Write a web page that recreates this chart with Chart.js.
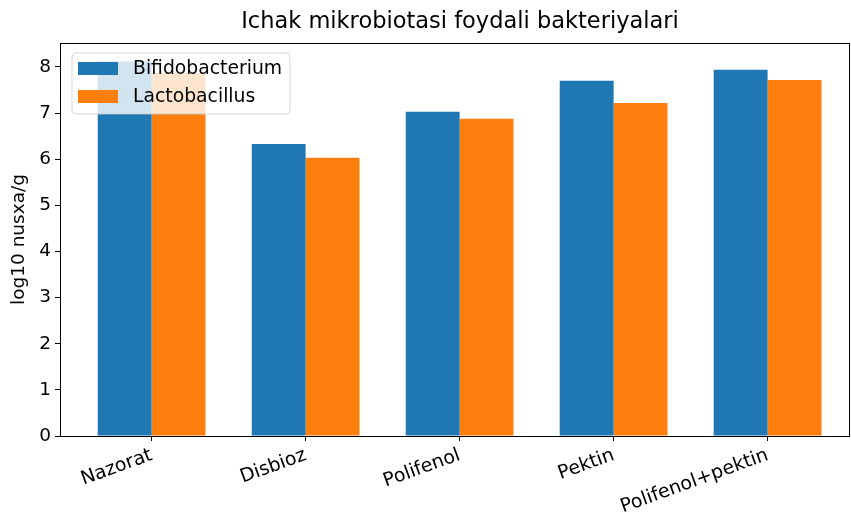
<!DOCTYPE html>
<html>
<head>
<meta charset="utf-8">
<script src="https://cdn.jsdelivr.net/npm/chart.js@4.4.1/dist/chart.umd.min.js"></script>
<style>
  html, body { margin: 0; padding: 0; background: #fff; }
  #wrap { width: 851px; height: 515px; }
</style>
</head>
<body>
<div id="wrap"><canvas id="chart" width="851" height="515"></canvas></div>
<script>
const categories = ['Nazorat', 'Disbioz', 'Polifenol', 'Pektin', 'Polifenol+pektin'];
const bifido = [8.12, 6.33, 7.03, 7.70, 7.94];
const lacto = [7.87, 6.03, 6.88, 7.22, 7.72];
const yTicks = [0, 1, 2, 3, 4, 5, 6, 7, 8];

const FONT = 'DejaVu Sans';
const TITLE = 'Ichak mikrobiotasi foydali bakteriyalari';

// frame, title and legend drawn over the plot like matplotlib
const framePlugin = {
    id: 'frame',
    afterDatasetsDraw(chart) {
        const { ctx, chartArea: a } = chart;
        ctx.save();
        ctx.strokeStyle = '#000';
        ctx.lineWidth = 1;
        ctx.strokeRect(Math.round(a.left) + 0.5, Math.round(a.top) + 0.5,
            Math.round(a.right - a.left) - 1, Math.round(a.bottom - a.top));

        // title centred over the (slightly clipped) axes
        ctx.font = '22.5px ' + FONT;
        ctx.fillStyle = '#000';
        ctx.textAlign = 'center';
        ctx.textBaseline = 'middle';
        ctx.fillText(TITLE, (a.left + a.right) / 2 + 5, 22);

        // legend
        const x0 = a.left + 12, y0 = a.top + 10;
        const w = 218, h = 61;
        ctx.beginPath();
        ctx.roundRect(x0, y0, w, h, 4);
        ctx.fillStyle = 'rgba(255,255,255,0.8)';
        ctx.fill();
        ctx.strokeStyle = 'rgba(204,204,204,0.8)';
        ctx.stroke();
        ctx.font = '18.8px ' + FONT;
        ctx.textAlign = 'left';
        chart.data.datasets.forEach((ds, i) => {
            const ry = y0 + 9 + i * 28;
            ctx.fillStyle = ds.backgroundColor;
            ctx.fillRect(x0 + 6, ry, 40, 13);
            ctx.fillStyle = '#000';
            ctx.fillText(ds.label, x0 + 61, ry + 7);
        });
        ctx.restore();
    }
};

new Chart(document.getElementById('chart').getContext('2d'), {
    type: 'bar',
    data: {
        datasets: [{
            label: 'Bifidobacterium',
            data: bifido.map((v, i) => ({ x: i, y: v })),
            backgroundColor: '#1f77b4',
            borderWidth: 0
        }, {
            label: 'Lactobacillus',
            data: lacto.map((v, i) => ({ x: i, y: v })),
            backgroundColor: '#ff7f0e',
            borderWidth: 0
        }]
    },
    options: {
        responsive: false,
        animation: false,
        layout: { padding: { left: 0, right: 1, top: 43, bottom: 0 } },
        categoryPercentage: 0.7,
        barPercentage: 1.0,
        plugins: {
            legend: { display: false },
            tooltip: { enabled: false },
            title: { display: false }
        },
        scales: {
            x: {
                type: 'linear',
                min: -0.595,
                max: 4.535,
                offset: false,
                afterBuildTicks(scale) {
                    scale.ticks = categories.map((c, i) => ({ value: i }));
                },
                afterFit(scale) { scale.height = 79; },
                grid: { display: true, offset: false, drawOnChartArea: false, tickLength: 5, color: '#000' },
                border: { display: false },
                ticks: {
                    autoSkip: false,
                    maxRotation: 20,
                    minRotation: 20,
                    padding: 3,
                    color: '#000',
                    font: { family: FONT, size: 19 },
                    callback: v => categories[v]
                }
            },
            y: {
                min: 0,
                max: 8.52,
                afterBuildTicks(scale) {
                    scale.ticks = yTicks.map(v => ({ value: v }));
                },
                afterFit(scale) { scale.width = 60; },
                grid: { display: true, drawOnChartArea: false, tickLength: 5, color: '#000' },
                border: { display: false },
                ticks: {
                    padding: 4,
                    color: '#000',
                    font: { family: FONT, size: 18.5 }
                },
                title: {
                    display: true,
                    text: 'log10 nusxa/g',
                    color: '#000',
                    font: { family: FONT, size: 18.5 },
                    padding: { top: 8, bottom: 4 }
                }
            }
        }
    },
    plugins: [framePlugin]
});
</script>
</body>
</html>
